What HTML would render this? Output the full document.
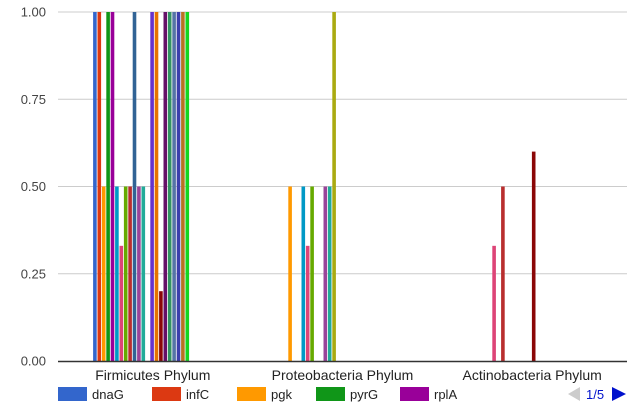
<!DOCTYPE html>
<html><head><meta charset="utf-8">
<style>
html,body{margin:0;padding:0;background:#fff;}
svg{display:block;font-family:"Liberation Sans",Arial,sans-serif;}
</style></head>
<body>
<svg id="chart" width="640" height="410" viewBox="0 0 640 410" xmlns="http://www.w3.org/2000/svg">
<g id="grid"></g>
<g id="bars"></g>
<g id="axes"></g>
<g id="legend"></g>
</svg>
<script>
const categories = ["Firmicutes Phylum","Proteobacteria Phylum","Actinobacteria Phylum"];
const seriesColors = ["#3366cc","#dc3912","#ff9900","#109618","#990099","#0099c6","#dd4477","#66aa00","#b82e2e","#316395","#994499","#22aa99","#aaaa11","#6633cc","#e67300","#8b0707","#651067","#329262","#5574a6","#3b3eac","#b77322","#16d620","#b91383","#f4359e","#9c5935"];
const firmicutesValues = [1,1,0.5,1,1,0.5,0.33,0.5,0.5,1,0.5,0.5,0,1,1,0.2,1,1,1,1,1,1,0,0,0];
const proteobacteriaValues = [0,0,0.5,0,0,0.5,0.33,0.5,0,0,0.5,0.5,1,0,0,0,0,0,0,0,0,0,0,0,0];
const actinobacteriaValues = [0,0,0,0,0,0,0.33,0,0.5,0,0,0,0,0,0,0.6,0,0,0,0,0,0,0,0,0];
const seriesValues = [firmicutesValues, proteobacteriaValues, actinobacteriaValues];
const yTicks = [0,0.25,0.5,0.75,1];
const yTickLabels = ["0.00","0.25","0.50","0.75","1.00"];
const legendNames = ["dnaG","infC","pgk","pyrG","rplA"];

const NS="http://www.w3.org/2000/svg";
const plotL=58, plotR=627, yTop=12, yBot=361;
const groupFirst=93.1, catStep=186.4, pitch=4.4, barW=3.6;
function y(v){return yBot-(yBot-yTop)*v;}
function barX(ci,si){return groupFirst+ci*catStep+si*pitch;}
function mk(tag,attrs,parent){const e=document.createElementNS(NS,tag);for(const k in attrs)e.setAttribute(k,attrs[k]);parent.appendChild(e);return e;}

const grid=document.getElementById('grid');
const axes=document.getElementById('axes');
yTicks.forEach((t,i)=>{
  if(t!==0){const l=mk('line',{x1:plotL,x2:plotR,y1:y(t),y2:y(t),stroke:'#cccccc','stroke-width':1},grid);
  
  }
  const tx=mk('text',{x:46,y:y(t)+4.5,'text-anchor':'end','font-size':13,fill:'#444'},axes);
  tx.textContent=yTickLabels[i];
  
  
});
const bars=document.getElementById('bars');
seriesValues.forEach((vals,ci)=>{
  vals.forEach((v,si)=>{
    if(v<=0)return;
    const r=mk('rect',{x:barX(ci,si),y:y(v),width:barW,height:yBot-y(v),fill:seriesColors[si]},bars);
    
    
  });
});
const base=mk('line',{x1:plotL,x2:plotR,y1:yBot+0.5,y2:yBot+0.5,stroke:'#333','stroke-width':1.5},axes);


categories.forEach((c,ci)=>{
  const cx=plotL+(plotR-plotL)*(ci+0.5)/categories.length;
  const t=mk('text',{x:cx,y:380,'text-anchor':'middle','font-size':14,fill:'#222'},axes);
  t.textContent=c;
  
  
});
const legend=document.getElementById('legend');
const legX=[58,152,237,316,400];
legendNames.forEach((n,i)=>{
  const s=mk('rect',{x:legX[i],y:387,width:29,height:14,fill:seriesColors[i]},legend);
  
  
  const t=mk('text',{x:legX[i]+34,y:399,'font-size':13,fill:'#222'},legend);
  t.textContent=n;
  
  
});
const prev=mk('polygon',{points:'568,394 580,387 580,401',fill:'#cccccc'},legend);


const pg=mk('text',{x:586,y:399,'font-size':13,fill:'#0011cc'},legend);
pg.textContent='1/5';


const next=mk('polygon',{points:'612,387 626,394 612,401',fill:'#0011cc'},legend);


</script>
</body></html>
